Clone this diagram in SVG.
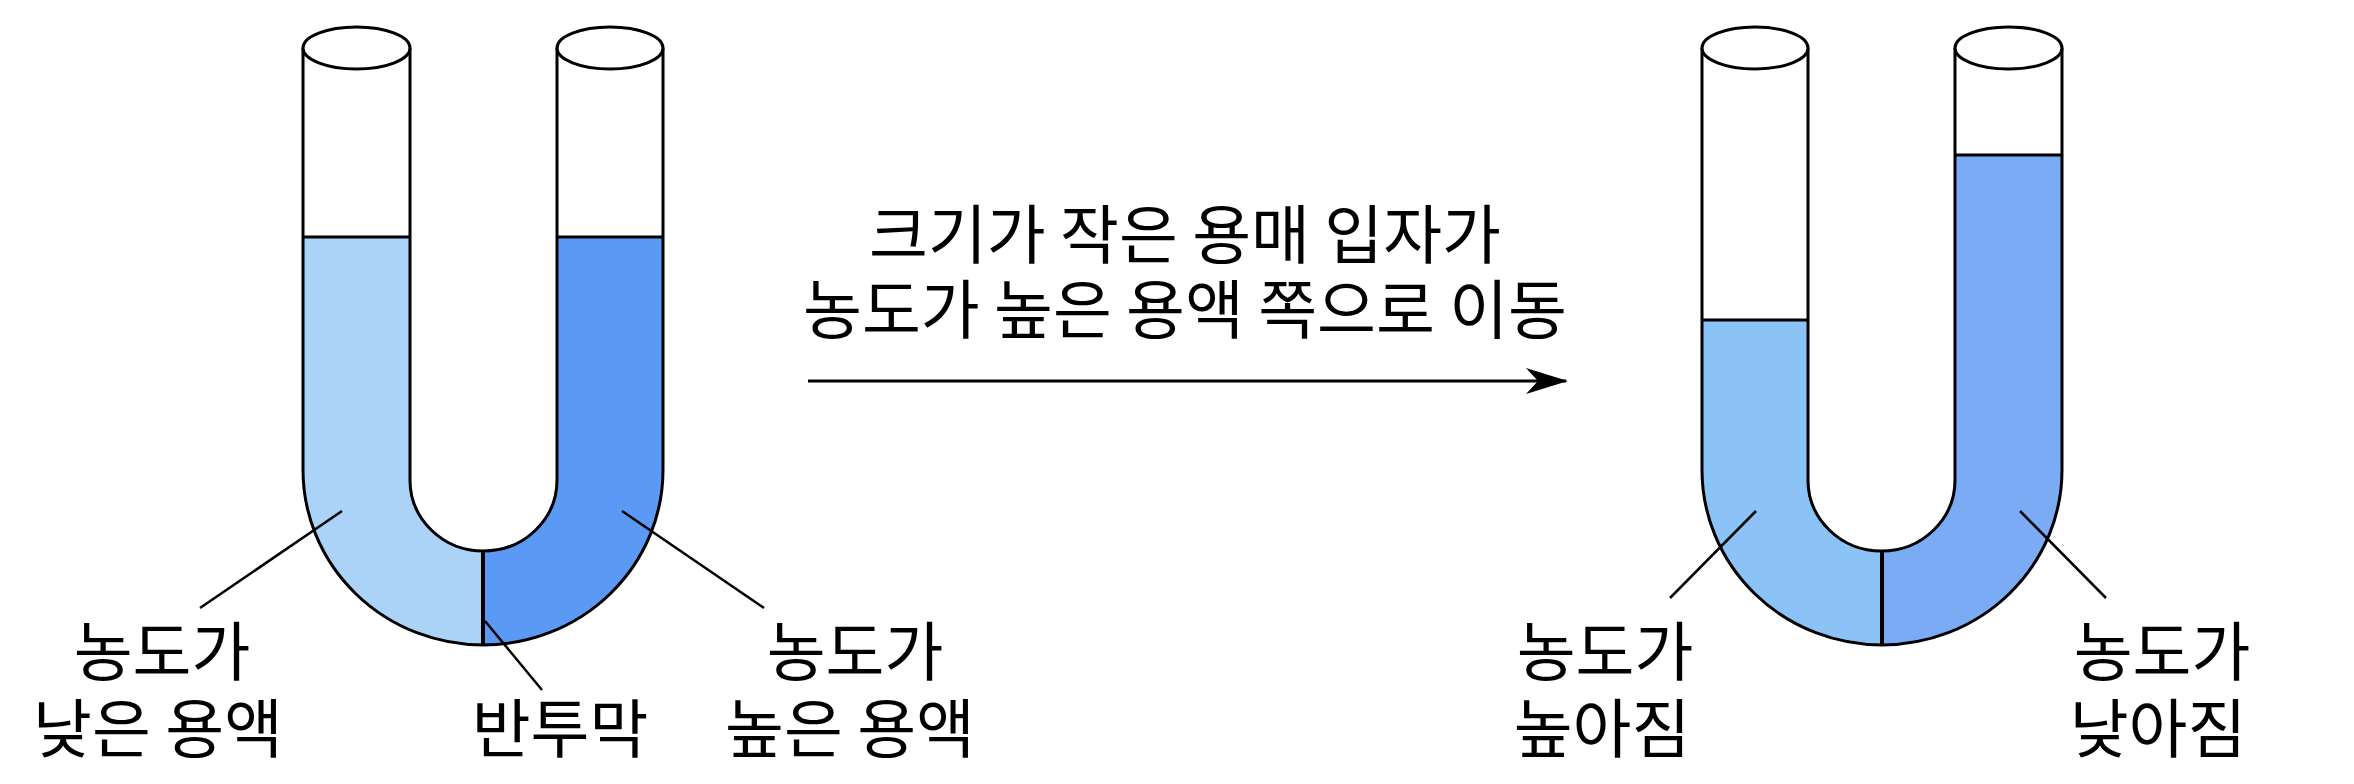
<svg xmlns="http://www.w3.org/2000/svg" width="2354" height="784" viewBox="0 0 2354 784">
<style>
.o{fill:none;stroke:#000;stroke-width:3}
.e{fill:#fff;stroke:#000;stroke-width:3}
.l{stroke:#000;stroke-width:2.5;fill:none}
.t{font-family:"Noto Sans CJK KR",sans-serif;font-size:64px;fill:#000;text-anchor:middle}
</style>
<defs><marker id="ah" markerWidth="42" markerHeight="28" refX="40" refY="14" orient="auto" markerUnits="userSpaceOnUse" viewBox="0 0 42 28"><path d="M0,1 L42,14 L0,27 L12,14 Z" fill="#000"/></marker></defs>
<g id="tube1">
<path d="M303,237 V470 A180,175 0 0 0 483,645 V551 A73,71 0 0 1 410,480 V237 Z" fill="#abd3f8"/>
<path d="M663,237 V470 A180,175 0 0 1 483,645 V551 A74,71 0 0 0 557,480 V237 Z" fill="#5a9af5"/>
<path class="o" d="M303,48 V470 A180,175 0 0 0 663,470 V48 M410,48 V480 A73.5,71 0 0 0 557,480 V48"/>
<line class="o" x1="303" y1="237" x2="410" y2="237"/><line class="o" x1="557" y1="237" x2="663" y2="237"/>
<line x1="483" y1="551" x2="483" y2="645" stroke="#000" stroke-width="4"/>
<ellipse class="e" cx="356.5" cy="48" rx="53.5" ry="21"/><ellipse class="e" cx="610" cy="48" rx="53" ry="21"/>
</g>
<g id="tube2">
<path d="M1702,320 V470 A180,175 0 0 0 1882,645 V551 A74,71 0 0 1 1808,480 V320 Z" fill="#8cc3f7"/>
<path d="M2062,155 V470 A180,175 0 0 1 1882,645 V551 A73,71 0 0 0 1955,480 V155 Z" fill="#7aabf4"/>
<path class="o" d="M1702,48 V470 A180,175 0 0 0 2062,470 V48 M1808,48 V480 A73.5,71 0 0 0 1955,480 V48"/>
<line class="o" x1="1702" y1="320" x2="1808" y2="320"/><line class="o" x1="1955" y1="155" x2="2062" y2="155"/>
<line x1="1882" y1="551" x2="1882" y2="645" stroke="#000" stroke-width="4"/>
<ellipse class="e" cx="1755" cy="48" rx="53" ry="21"/><ellipse class="e" cx="2008.5" cy="48" rx="53.5" ry="21"/>
</g>
<g id="connectors">
<line class="l" x1="342" y1="511" x2="200" y2="608"/>
<line class="l" x1="622" y1="511" x2="764" y2="608"/>
<line class="l" x1="485" y1="621" x2="542" y2="690"/>
<line class="l" x1="1756" y1="511" x2="1670" y2="598"/>
<line class="l" x1="2020" y1="511" x2="2106" y2="598"/>
<line x1="808" y1="381" x2="1566" y2="381" stroke="#000" stroke-width="3" marker-end="url(#ah)"/>
</g>
<g id="labels">
<text class="t" x="162" y="675">농도가</text><text class="t" x="158" y="752">낮은 용액</text>
<text class="t" x="560" y="752">반투막</text>
<text class="t" x="855" y="675">농도가</text><text class="t" x="850" y="752">높은 용액</text>
<text class="t" x="1185" y="258">크기가 작은 용매 입자가</text>
<text class="t" x="1185" y="333">농도가 높은 용액 쪽으로 이동</text>
<text class="t" x="1605" y="675">농도가</text><text class="t" x="1602" y="752">높아짐</text>
<text class="t" x="2162" y="675">농도가</text><text class="t" x="2158" y="752">낮아짐</text>
</g>
</svg>
